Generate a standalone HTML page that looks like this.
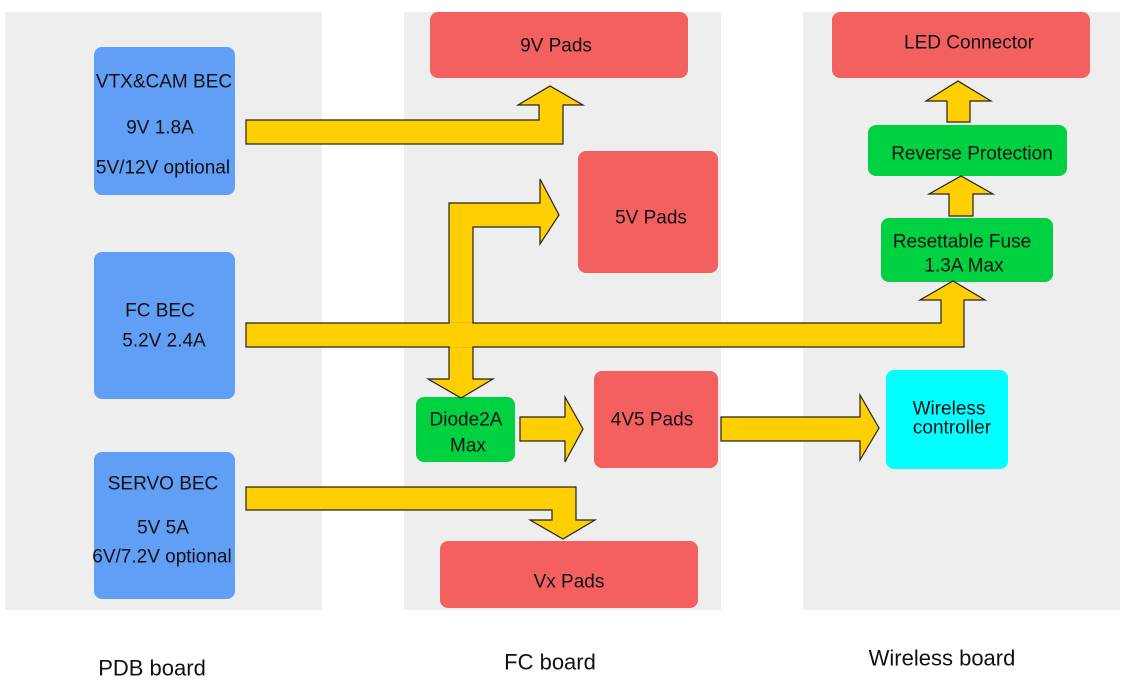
<!DOCTYPE html>
<html><head><meta charset="utf-8"><style>
html,body{margin:0;padding:0;background:#fff;}
svg{display:block;font-family:"Liberation Sans",sans-serif;}
text{font-size:19px;fill:#111;text-anchor:middle;dominant-baseline:central;}
</style></head><body>
<svg width="1125" height="690" viewBox="0 0 1125 690">
<rect x="5" y="12" width="317" height="598" fill="#eeeeee"/>
<rect x="404" y="12" width="317" height="598" fill="#eeeeee"/>
<rect x="803" y="12" width="317" height="598" fill="#eeeeee"/>

<g fill="#619ef5">
<rect x="94" y="47" width="141" height="148" rx="8"/>
<rect x="94" y="252" width="141" height="147" rx="8"/>
<rect x="94" y="452" width="141" height="147" rx="8"/>
</g>
<g fill="#f46060">
<rect x="430" y="12" width="258" height="66" rx="8"/>
<rect x="578" y="151" width="140" height="122" rx="8"/>
<rect x="594" y="371" width="124" height="97" rx="8"/>
<rect x="440" y="541" width="258" height="67" rx="8"/>
<rect x="832" y="12" width="258" height="66" rx="8"/>
</g>
<g fill="#00d141">
<rect x="416" y="397" width="99" height="65" rx="8"/>
<rect x="868" y="125" width="199" height="51" rx="8"/>
<rect x="881" y="218" width="172" height="64" rx="8"/>
</g>
<rect x="886" y="370" width="122" height="99" rx="8" fill="#00ffff"/>

<g fill="#ffcf00" stroke="#222" stroke-width="1.2" stroke-linejoin="miter">
<polygon points="246,120 539,120 539,105 518,105 550,86 583,105 563,105 563,144 246,144"/>
<polygon points="449,203 540,203 540,179 559,215 540,244 540,227 473,227 473,379 493,379 461,398 428,379 449,379"/>
<polygon points="246,323 941,323 941,300 920,300 953,281 985,300 964,300 964,347 246,347"/>
<polygon points="949,216 949,194 929,194 961,176 993,194 973,194 973,216"/>
<polygon points="947,122 947,101 926,101 958,81 991,101 970,101 970,122"/>
<polygon points="520,417 565,417 565,397 583,429 565,462 565,441 520,441"/>
<polygon points="721,417 860,417 860,395 879,428 860,460 860,441 721,441"/>
<polygon points="246,487 576,487 576,520 595,520 563,539 530,520 552,520 552,510 246,510"/>
</g>
<rect x="449.7" y="322.4" width="22.6" height="25.2" fill="#ffcf00"/>

<text x="164" y="82">VTX&amp;CAM BEC</text>
<text x="160" y="128">9V 1.8A</text>
<text x="163" y="168">5V/12V optional</text>
<text x="160" y="311">FC BEC</text>
<text x="164" y="341">5.2V 2.4A</text>
<text x="163" y="484">SERVO BEC</text>
<text x="163" y="528">5V 5A</text>
<text x="162" y="557">6V/7.2V optional</text>

<text x="556" y="46">9V Pads</text>
<text x="651" y="218">5V Pads</text>
<text x="652" y="420">4V5 Pads</text>
<text x="569" y="582">Vx Pads</text>
<text x="466" y="420">Diode2A</text>
<text x="468" y="446">Max</text>
<text x="969" y="43">LED Connector</text>
<text x="972" y="154">Reverse Protection</text>
<text x="962" y="242">Resettable Fuse</text>
<text x="964" y="266">1.3A Max</text>
<text x="949" y="409">Wireless</text>
<text x="952" y="428">controller</text>

<text x="152" y="668" style="font-size:22px">PDB board</text>
<text x="550" y="662" style="font-size:22px">FC board</text>
<text x="942" y="658" style="font-size:22px">Wireless board</text>
</svg>
</body></html>
